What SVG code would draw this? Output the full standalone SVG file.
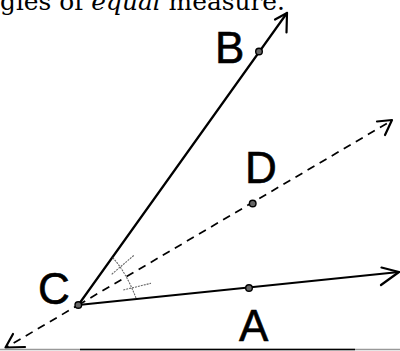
<svg xmlns="http://www.w3.org/2000/svg" width="400" height="351" viewBox="0 0 400 351">
<style>
.lbl{font-family:"Liberation Sans",Arial,sans-serif;font-size:44px;fill:#000;stroke:#000;stroke-width:0.6}
.dot{fill:#666;stroke:#000;stroke-width:1.4}
.ray{stroke:#000;stroke-width:2.2;fill:none;stroke-linecap:round}
.dash{stroke:#000;stroke-width:1.7;fill:none;stroke-dasharray:8 6}
.head{stroke:#000;stroke-width:2.2;fill:none;stroke-linecap:round;stroke-linejoin:round}
.mark{stroke:#666;stroke-width:1.1;fill:none;stroke-dasharray:2 1}
.cap{font-family:"DejaVu Serif","Liberation Serif",serif;font-size:25px;fill:#000}
</style>
<rect width="400" height="351" fill="#fff"/>
<text class="cap" x="0" y="10" textLength="285" lengthAdjust="spacingAndGlyphs">gles of <tspan font-style="italic">equal</tspan> measure.</text>
<g id="connectors">
  <line class="ray" x1="78.3" y1="305" x2="287" y2="13"/>
  <path class="head" d="M275 19.5 L287 13 L286.5 32.5"/>
  <line class="ray" x1="78.3" y1="305" x2="399" y2="272"/>
  <path class="head" d="M381.5 267.5 L399 272 L381 285"/>
  <line class="dash" x1="78.3" y1="305" x2="391" y2="121"/>
  <line class="dash" x1="78.3" y1="305" x2="6" y2="347.5" stroke-dashoffset="3"/>
  <path class="head" d="M377 121.5 L392 120 L385 135"/>
  <path class="head" d="M13 334 L5.5 347.5 L25 347"/>
</g>
<g id="construction">
  <path class="mark" d="M112.7 257.7 Q126 272 136 298"/>
  <path class="mark" d="M111.7 274.3 L134.3 255"/>
  <path class="mark" d="M123.3 290 L151 283.3"/>
</g>
<g id="node-B">
  <circle class="dot" cx="259" cy="51.5" r="3.3"/>
  <text class="lbl" x="215" y="63">B</text>
</g>
<g id="node-C">
  <circle class="dot" cx="78.3" cy="305" r="3.3"/>
  <text class="lbl" x="38" y="304">C</text>
</g>
<g id="node-D">
  <circle class="dot" cx="252.7" cy="203.5" r="3.3"/>
  <text class="lbl" x="245" y="183">D</text>
</g>
<g id="node-A">
  <circle class="dot" cx="249" cy="288" r="3.3"/>
  <text class="lbl" x="239" y="341" font-size="46">A</text>
</g>
<line x1="0" y1="349.5" x2="400" y2="349.5" stroke="#999" stroke-width="1.5"/>
<line x1="80" y1="349.5" x2="355" y2="349.5" stroke="#000" stroke-width="1.5"/>
</svg>
